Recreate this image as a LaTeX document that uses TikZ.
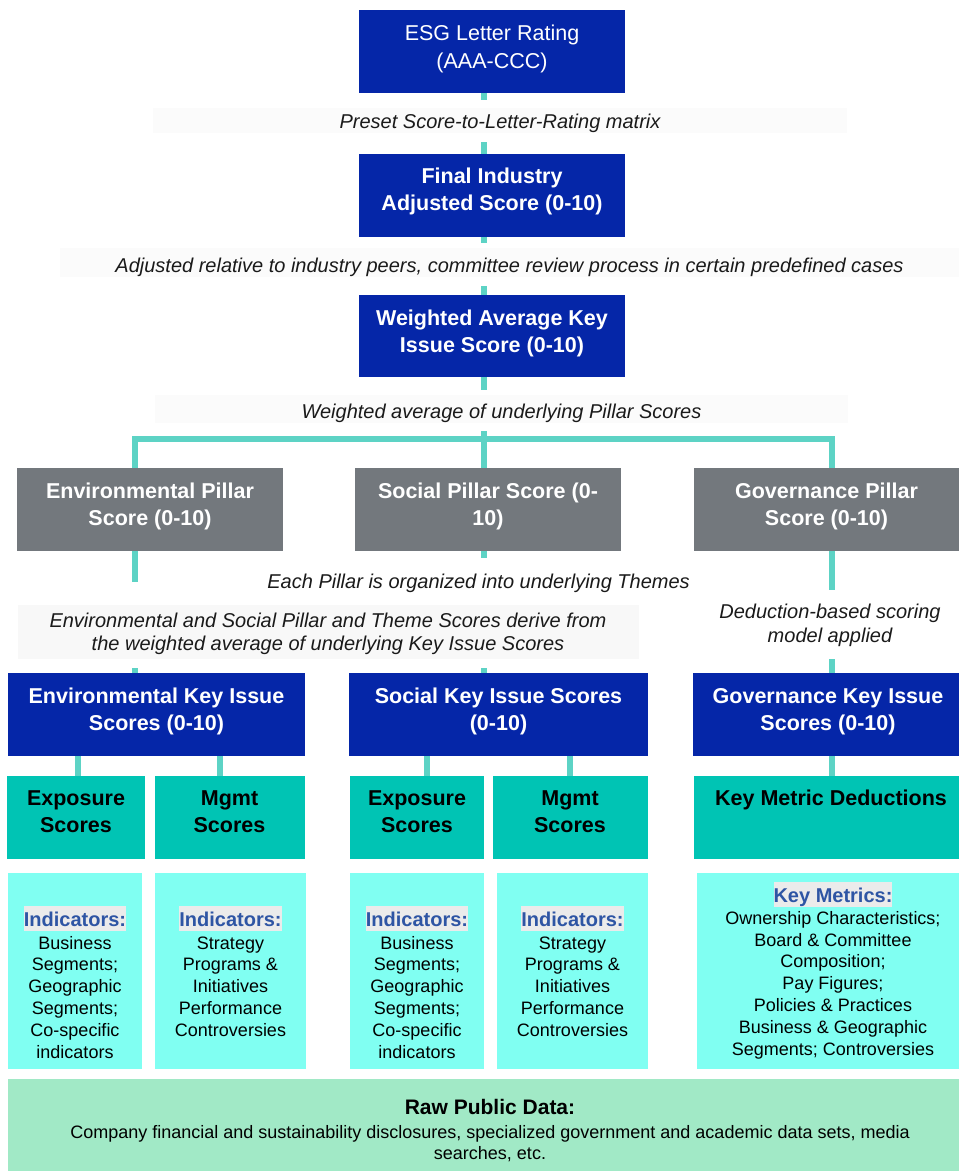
\documentclass[tikz,border=0pt]{standalone}
\usepackage{fontspec}
\setmainfont{Liberation Sans}
\definecolor{dblue}{HTML}{0526A8}
\definecolor{pgray}{HTML}{73787D}
\definecolor{tealb}{HTML}{00C4B4}
\definecolor{cyanb}{HTML}{80FFF2}
\definecolor{rawg}{HTML}{A1E9C6}
\definecolor{bandc}{HTML}{FBFBFB}
\definecolor{bandd}{HTML}{F8F8F8}
\definecolor{conncol}{HTML}{5DD3C5}
\definecolor{indblue}{HTML}{2E55A4}
\definecolor{hlgray}{HTML}{EBEBEB}
\definecolor{lblc}{HTML}{1A1A1A}
\newcommand{\mystrut}{\rule{0pt}{17pt}}
\newcommand{\hlbox}[1]{{\setlength{\fboxsep}{0pt}\colorbox{hlgray}{\rule[-5pt]{0pt}{25pt}#1}}}
\begin{document}
\begin{tikzpicture}[x=1pt,y=-1pt,
  every node/.style={inner sep=0pt, outer sep=0pt},
  box/.style={anchor=north west},
  conn/.style={draw=conncol, line width=6pt},
  btxt/.style={text=white, font=\fontsize{21.5}{27.5}\selectfont\bfseries, align=center, anchor=north},
  ktxt/.style={text=black, font=\fontsize{21.5}{27}\selectfont\bfseries, align=center, anchor=north},
  ctxt/.style={text=black, font=\fontsize{18}{21.8}\selectfont, align=center, anchor=north},
  lbl/.style={font=\fontsize{20}{24}\selectfont\itshape, text=lblc}
]
\useasboundingbox (0,0) rectangle (959,1171);

% x positions of connectors
\coordinate (spine) at (483.5,0);
\coordinate (envx) at (135,0);
\coordinate (govx) at (832,0);
\coordinate (barc) at (0,439);
\coordinate (xa) at (78,0);
\coordinate (xb) at (220,0);
\coordinate (xc) at (427,0);
\coordinate (xd) at (570,0);

% ---- top chain
\node[box, fill=dblue, minimum width=266pt, minimum height=83pt] (esg) at (359,10) {};
\node[btxt, font=\fontsize{21.5}{27.5}\selectfont] (esgt) at (492,23.7) {\mystrut ESG Letter Rating\\(AAA-CCC)};

\node[box, fill=bandc, minimum width=694pt, minimum height=25pt, text height=20pt, text depth=5pt, lbl] (preset) at (153,108) {Preset Score-to-Letter-Rating matrix};

\node[box, fill=dblue, minimum width=266pt, minimum height=83pt] (final) at (359,154) {};
\node[btxt] (finalt) at (492,166) {\mystrut Final Industry\\Adjusted Score (0-10)};

\node[box, fill=bandc, minimum width=899pt, minimum height=29pt, text height=24pt, text depth=5pt, lbl] (adjb) at (60,248) {Adjusted relative to industry peers, committee review process in certain predefined cases};

\node[box, fill=dblue, minimum width=266pt, minimum height=82pt] (wtd) at (359,295) {};
\node[btxt] (wtdt) at (492,308) {\mystrut Weighted Average Key\\Issue Score (0-10)};

\node[box, fill=bandc, minimum width=693pt, minimum height=28pt, text height=23pt, text depth=5pt, lbl] (wavgb) at (155,395) {Weighted average of underlying Pillar Scores};

% ---- pillars
\node[box, fill=pgray, minimum width=266pt, minimum height=83pt] (envp) at (17,468) {};
\node[btxt] (envpt) at (150,481) {\mystrut Environmental Pillar\\Score (0-10)};
\node[box, fill=pgray, minimum width=266pt, minimum height=83pt] (socp) at (355,468) {};
\node[btxt] (socpt) at (488,481) {\mystrut Social Pillar Score (0-\\10)};
\node[box, fill=pgray, minimum width=265pt, minimum height=83pt] (govp) at (694,468) {};
\node[btxt] (govpt) at (826.5,481) {\mystrut Governance Pillar\\Score (0-10)};

% ---- middle labels
\node[lbl, anchor=base] (themes) at (478.6,588) {Each Pillar is organized into underlying Themes};
\node[box, fill=bandd, minimum width=621pt, minimum height=54pt] (envsocb) at (18,605) {};
\node[lbl, font=\fontsize{20}{23}\selectfont\itshape, align=center, anchor=north] (envsoct) at (328,610) {\mystrut Environmental and Social Pillar and Theme Scores derive from\\the weighted average of underlying Key Issue Scores};
\node[lbl, align=center, anchor=north] (deduct) at (830,601) {\mystrut Deduction-based scoring\\model applied};

% ---- key issue boxes
\node[box, fill=dblue, minimum width=297pt, minimum height=83pt] (envk) at (8,673) {};
\node[btxt] (envkt) at (156.5,686) {\mystrut Environmental Key Issue\\Scores (0-10)};
\node[box, fill=dblue, minimum width=299pt, minimum height=83pt] (sock) at (349,673) {};
\node[btxt] (sockt) at (498.5,686) {\mystrut Social Key Issue Scores\\(0-10)};
\node[box, fill=dblue, minimum width=266pt, minimum height=83pt] (govk) at (693,673) {};
\node[btxt] (govkt) at (828,686) {\mystrut Governance Key Issue\\Scores (0-10)};

% ---- teal score boxes
\node[box, fill=tealb, minimum width=138pt, minimum height=83pt] (envexp) at (7,776) {};
\node[ktxt] (envexpt) at (76,788.7) {\mystrut Exposure\\Scores};
\node[box, fill=tealb, minimum width=150pt, minimum height=83pt] (envmg) at (155,776) {};
\node[ktxt] (envmgt) at (229.5,788.7) {\mystrut Mgmt\\Scores};
\node[box, fill=tealb, minimum width=134pt, minimum height=83pt] (socexp) at (350,776) {};
\node[ktxt] (socexpt) at (417,788.7) {\mystrut Exposure\\Scores};
\node[box, fill=tealb, minimum width=155pt, minimum height=83pt] (socmg) at (493,776) {};
\node[ktxt] (socmgt) at (570,788.7) {\mystrut Mgmt\\Scores};
\node[box, fill=tealb, minimum width=265pt, minimum height=83pt] (govded) at (694,776) {};
\node[ktxt] (govdedt) at (831,788.7) {\mystrut Key Metric Deductions};

% ---- indicator boxes
\node[box, fill=cyanb, minimum width=134pt, minimum height=196pt] (envexpi) at (8,873) {};
\node[ctxt] (envexpit) at (75,906) {{\fontsize{20}{24}\selectfont\bfseries\color{indblue}\hlbox{Indicators:}}\\[1.2pt]Business\\Segments;\\Geographic\\Segments;\\Co-specific\\indicators};
\node[box, fill=cyanb, minimum width=151pt, minimum height=196pt] (envmgi) at (155,873) {};
\node[ctxt] (envmgit) at (230.5,906) {{\fontsize{20}{24}\selectfont\bfseries\color{indblue}\hlbox{Indicators:}}\\[1.2pt]Strategy\\Programs \&\\Initiatives\\Performance\\Controversies};
\node[box, fill=cyanb, minimum width=134pt, minimum height=196pt] (socexpi) at (350,873) {};
\node[ctxt] (socexpit) at (417,906) {{\fontsize{20}{24}\selectfont\bfseries\color{indblue}\hlbox{Indicators:}}\\[1.2pt]Business\\Segments;\\Geographic\\Segments;\\Co-specific\\indicators};
\node[box, fill=cyanb, minimum width=151pt, minimum height=196pt] (socmgi) at (497,873) {};
\node[ctxt] (socmgit) at (572.5,906) {{\fontsize{20}{24}\selectfont\bfseries\color{indblue}\hlbox{Indicators:}}\\[1.2pt]Strategy\\Programs \&\\Initiatives\\Performance\\Controversies};
\node[box, fill=cyanb, minimum width=262pt, minimum height=196pt] (govi) at (697,873) {};
\node[ctxt] (govit) at (833,882) {{\fontsize{20}{24}\selectfont\bfseries\color{indblue}\hlbox{Key Metrics:}}\\[0.5pt]Ownership Characteristics;\\Board \& Committee\\Composition;\\Pay Figures;\\Policies \& Practices\\Business \& Geographic\\Segments; Controversies};

% ---- raw data
\node[box, fill=rawg, minimum width=951pt, minimum height=92pt] (raw) at (8,1079) {};
\node[ctxt] (rawt) at (490,1097) {{\fontsize{21}{24}\selectfont\bfseries\mystrut Raw Public Data:}\\[2.2pt]Company financial and sustainability disclosures, specialized government and academic data sets, media\\searches, etc.};

% ---- connectors
\draw[conn, shorten >=8pt] (esg.south -| spine) -- (preset.north -| spine);
\draw[conn, shorten <=9pt] (preset.south -| spine) -- (final.north -| spine);
\draw[conn, shorten >=5pt] (final.south -| spine) -- (adjb.north -| spine);
\draw[conn, shorten <=9pt] (adjb.south -| spine) -- (wtd.north -| spine);
\draw[conn, shorten >=5pt] (wtd.south -| spine) -- (wavgb.north -| spine);
\draw[conn, shorten <=8pt] (wavgb.south -| spine) -- (socp.north -| spine);
\draw[conn, line join=miter] (envp.north -| envx) -- (envx |- barc) -- (govx |- barc) -- (govp.north -| govx);

\coordinate (envfree) at (135,582);
\coordinate (socfree) at (483.5,558);
\coordinate (govfree) at (832,590);
\coordinate (govfree2) at (832,659);
\draw[conn] (envp.south -| envx) -- (envfree);
\draw[conn] (socp.south -| spine) -- (socfree);
\draw[conn] (govp.south -| govx) -- (govfree);
\draw[conn, shorten <=9pt] (envsocb.south -| envx) -- (envk.north -| envx);
\draw[conn, shorten <=9pt] (envsocb.south -| spine) -- (sock.north -| spine);
\draw[conn] (govfree2) -- (govk.north -| govx);

\draw[conn] (envk.south -| xa) -- (envexp.north -| xa);
\draw[conn] (envk.south -| xb) -- (envmg.north -| xb);
\draw[conn] (sock.south -| xc) -- (socexp.north -| xc);
\draw[conn] (sock.south -| xd) -- (socmg.north -| xd);
\draw[conn] (govk.south -| govx) -- (govded.north -| govx);
\end{tikzpicture}
\end{document}
